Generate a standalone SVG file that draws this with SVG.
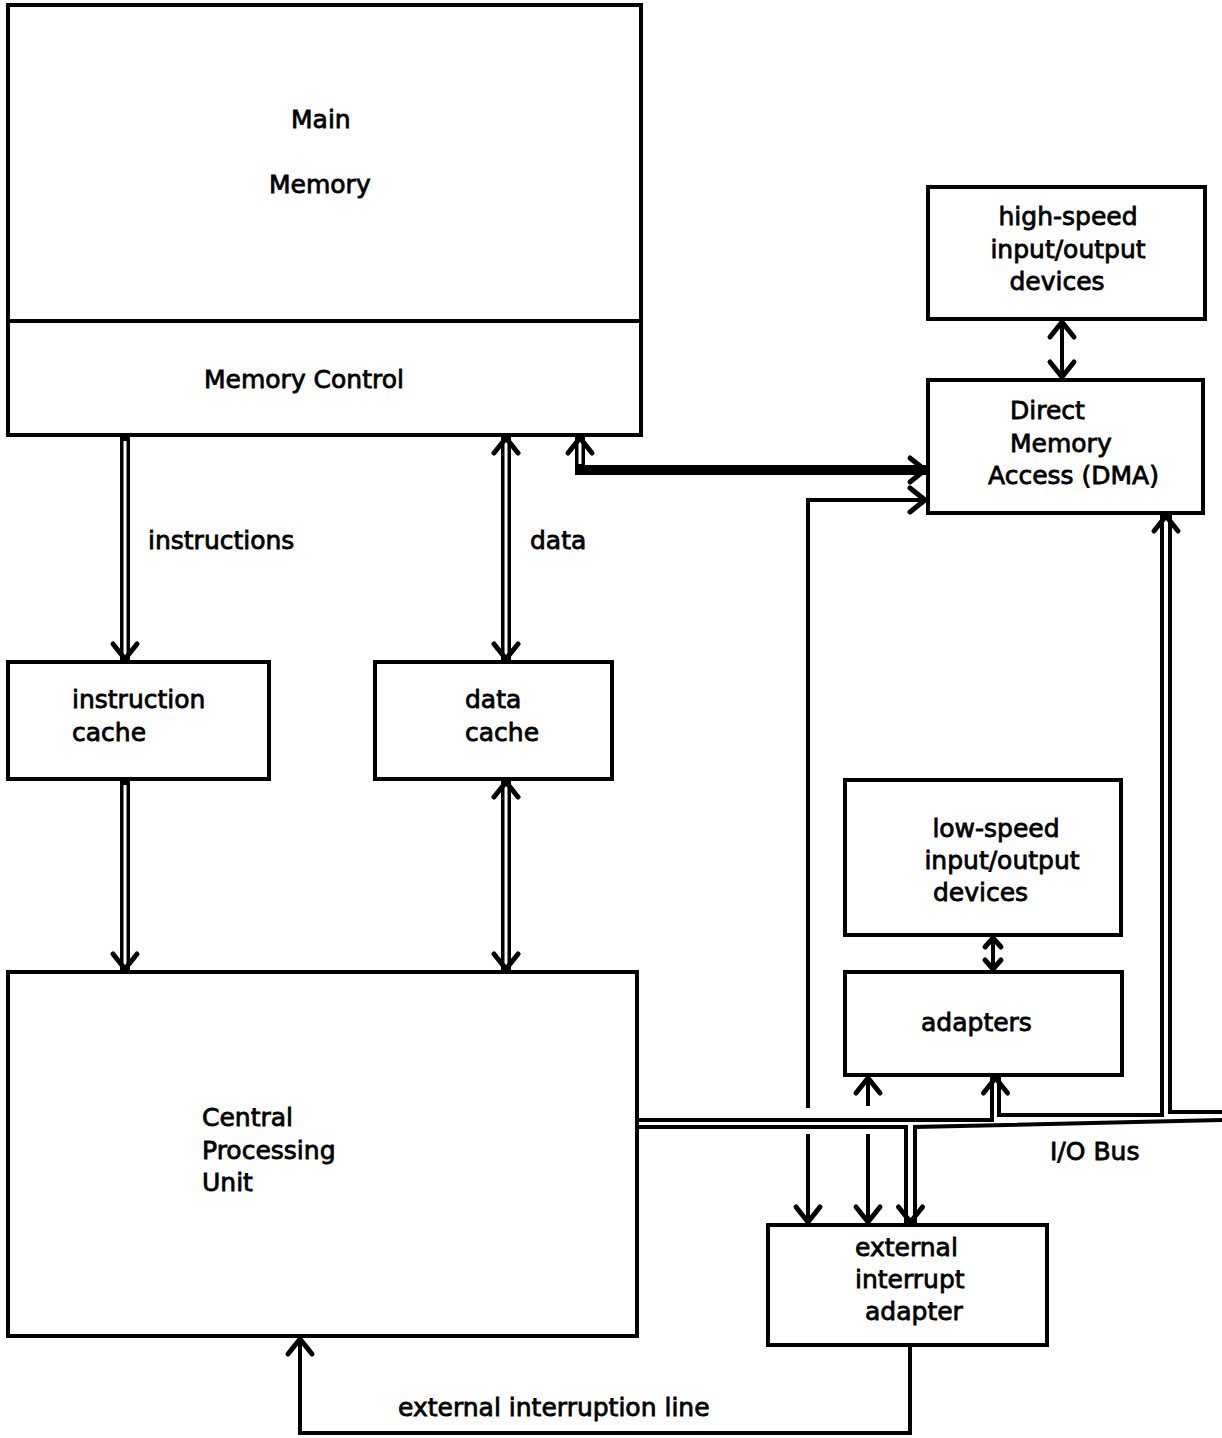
<svg xmlns="http://www.w3.org/2000/svg" width="1222" height="1438" viewBox="0 0 1222 1438">
<style>
.box{fill:#fff;stroke:#000;stroke-width:4}
.t{font-family:"DejaVu Sans",sans-serif;font-size:25px;fill:#000;stroke:#000;stroke-width:0.8}
.c{text-anchor:middle}
.ln{fill:none;stroke:#000;stroke-width:4}
.dbo{fill:none;stroke:#000;stroke-width:10}
.dbi{fill:none;stroke:#fff;stroke-width:3}
.car{fill:none;stroke:none}
</style>
<defs>
<marker id="ah" markerUnits="userSpaceOnUse" viewBox="-24 -24 48 48" markerWidth="48" markerHeight="48" refX="0" refY="0" orient="auto-start-reverse" overflow="visible">
<path d="M-16,-12 L-1,0 L-16,12" fill="none" stroke="#000" stroke-width="5" stroke-linejoin="round" stroke-linecap="round"/>
</marker>
<marker id="ahs" markerUnits="userSpaceOnUse" viewBox="-20 -20 40 40" markerWidth="40" markerHeight="40" refX="0" refY="0" orient="auto-start-reverse" overflow="visible">
<path d="M-10,-8 L-1,0 L-10,8" fill="none" stroke="#000" stroke-width="5" stroke-linejoin="round" stroke-linecap="round"/>
</marker>
</defs>
<rect width="1222" height="1438" fill="#fff"/>

<g id="main-memory">
<rect class="box" x="8" y="5" width="633" height="430"/>
<line class="ln" x1="8" y1="321" x2="641" y2="321"/>
<text class="t" x="291" y="128">Main</text>
<text class="t" x="269" y="193">Memory</text>
<text class="t" x="204" y="388">Memory Control</text>
</g>

<g id="high-speed-io">
<rect class="box" x="928" y="187" width="277" height="132"/>
<text class="t c" x="1068" y="225">high-speed</text>
<text class="t c" x="1068" y="258">input/output</text>
<text class="t c" x="1057" y="290">devices</text>
</g>

<g id="dma">
<rect class="box" x="928" y="380" width="275" height="133"/>
<text class="t" x="1010" y="419">Direct</text>
<text class="t" x="1010" y="452">Memory</text>
<text class="t" x="988" y="484">Access (DMA)</text>
</g>

<g id="instruction-cache">
<rect class="box" x="8" y="662" width="261" height="117"/>
<text class="t" x="72" y="708">instruction</text>
<text class="t" x="72" y="741">cache</text>
</g>

<g id="data-cache">
<rect class="box" x="375" y="662" width="237" height="117"/>
<text class="t" x="465" y="708">data</text>
<text class="t" x="465" y="741">cache</text>
</g>

<g id="low-speed-io">
<rect class="box" x="845" y="780" width="276" height="155"/>
<text class="t c" x="996" y="837">low-speed</text>
<text class="t c" x="1002" y="869">input/output</text>
<text class="t" x="933" y="901">devices</text>
</g>

<g id="adapters">
<rect class="box" x="845" y="972" width="277" height="103"/>
<text class="t" x="921" y="1031">adapters</text>
</g>

<g id="cpu">
<rect class="box" x="8" y="972" width="629" height="364"/>
<text class="t" x="202" y="1126">Central</text>
<text class="t" x="202" y="1159">Processing</text>
<text class="t" x="202" y="1191">Unit</text>
</g>

<g id="external-interrupt-adapter">
<rect class="box" x="768" y="1225" width="279" height="120"/>
<text class="t" x="855" y="1256">external</text>
<text class="t" x="855" y="1288">interrupt</text>
<text class="t" x="865" y="1320">adapter</text>
</g>

<g id="connectors">
<!-- instructions -->
<path class="dbo" d="M125,437 V660"/>
<path class="dbi" d="M125,441 V656"/>
<path class="car" d="M125,437 V660" marker-end="url(#ah)"/>
<!-- data -->
<path class="dbo" d="M506,437 V660"/>
<path class="dbi" d="M506,441 V656"/>
<path class="car" d="M506,437 V660" marker-start="url(#ah)" marker-end="url(#ah)"/>
<!-- icache to cpu -->
<path class="dbo" d="M125,781 V970"/>
<path class="dbi" d="M125,785 V966"/>
<path class="car" d="M125,781 V970" marker-end="url(#ah)"/>
<!-- dcache to cpu -->
<path class="dbo" d="M506,781 V970"/>
<path class="dbi" d="M506,785 V966"/>
<path class="car" d="M506,781 V970" marker-start="url(#ah)" marker-end="url(#ah)"/>
<!-- memory control to DMA -->
<path class="dbo" d="M580,437 V470 H926"/>
<path class="dbi" d="M580,441 V464"/>
<path class="car" d="M580,437 V470 H926" marker-start="url(#ah)" marker-end="url(#ah)"/>
<!-- DMA to external interrupt adapter (left line) -->
<path class="ln" d="M808,1108 V500 H926" marker-end="url(#ah)"/>
<path class="ln" d="M808,1134 V1223" marker-end="url(#ah)"/>
<!-- x=868 line -->
<path class="ln" d="M868,1106 V1077" marker-end="url(#ah)"/>
<path class="ln" d="M868,1134 V1223" marker-end="url(#ah)"/>
<!-- low-speed to adapters -->
<path class="ln" d="M993,937 V970" marker-start="url(#ahs)" marker-end="url(#ahs)"/>
<!-- high-speed to DMA -->
<path class="ln" d="M1062,321 V378" marker-start="url(#ah)" marker-end="url(#ah)"/>
<!-- I/O bus -->
<path class="ln" d="M637,1120 H992 V1077"/>
<path class="ln" d="M999,1077 V1115 H1162 V515"/>
<path class="ln" d="M1170,515 V1112 H1222"/>
<path class="ln" d="M637,1127 H906 V1223"/>
<path class="ln" d="M915,1223 V1127 L1222,1120"/>
<path class="car" d="M995.5,1100 V1077" marker-end="url(#ah)"/>
<path class="car" d="M1166,540 V515" marker-end="url(#ah)"/>
<path class="car" d="M910.5,1200 V1223" marker-end="url(#ah)"/>
<!-- external interruption line -->
<path class="ln" d="M910,1347 V1433 H300 V1338" marker-end="url(#ah)"/>
</g>

<g id="labels">
<text class="t" x="148" y="549">instructions</text>
<text class="t" x="530" y="549">data</text>
<text class="t" x="1050" y="1160">I/O Bus</text>
<text class="t" x="398" y="1416">external interruption line</text>
</g>
</svg>
